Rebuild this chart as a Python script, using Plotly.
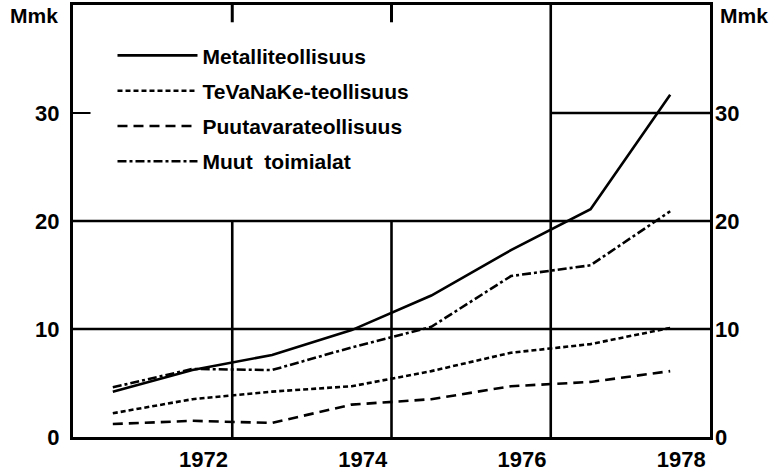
import plotly.graph_objects as go

years = [1971, 1972, 1973, 1974, 1975, 1976, 1977, 1978]
metalli = [4.2, 6.2, 7.6, 9.9, 13.1, 17.3, 21.1, 31.7]
tevanake = [2.2, 3.5, 4.2, 4.7, 6.1, 7.8, 8.6, 10.1]
puutavara = [1.2, 1.5, 1.3, 3.0, 3.5, 4.7, 5.1, 6.1]
muut = [4.6, 6.3, 6.2, 8.3, 10.2, 14.9, 15.9, 20.9]

series_names = ["Metalliteollisuus", "TeVaNaKe-teollisuus", "Puutavarateollisuus", "Muut  toimialat"]
x_tick_years = [1972, 1974, 1976, 1978]
y_ticks = [0, 10, 20, 30]

FONT = "Liberation Sans, Arial, sans-serif"
dashes = ["solid", "5px,3px", "10px,6px", "9px,3px,3px,3px"]
values = [metalli, tevanake, puutavara, muut]

fig = go.Figure()
for i, (name, vals, dash) in enumerate(zip(series_names, values, dashes)):
    fig.add_trace(go.Scatter(
        x=years, y=vals, mode="lines", name=name,
        line=dict(color="black", width=2.6, dash=dash),
        legendgroup=f"g{i}",
    ))

# invisible trace for right axis
fig.add_trace(go.Scatter(x=[years[0]], y=[0], yaxis="y2", mode="lines",
                         line=dict(width=0), showlegend=False, hoverinfo="skip"))

lw = 2.6
shapes = []
for xv, ytop in [(1972.5, 20), (1974.5, 20), (1976.5, 40)]:
    shapes.append(dict(type="line", xref="x", yref="y", x0=xv, x1=xv, y0=0, y1=ytop,
                       line=dict(color="black", width=lw)))
for yv, x0 in [(10, 1970.5), (20, 1970.5), (30, 1976.5)]:
    shapes.append(dict(type="line", xref="x", yref="y", x0=x0, x1=1978.5, y0=yv, y1=yv,
                       line=dict(color="black", width=lw)))
for xv in [1972.5, 1974.5]:
    shapes.append(dict(type="line", xref="x", yref="y", x0=xv, x1=xv, y0=40, y1=38.4,
                       line=dict(color="black", width=3)))
shapes.append(dict(type="line", xref="x", yref="y", x0=1970.5, x1=1970.72, y0=30, y1=30,
                   line=dict(color="black", width=2)))

fig.update_layout(
    width=777, height=471,
    margin=dict(l=73, r=67, t=5, b=34),
    paper_bgcolor="white", plot_bgcolor="white",
    font=dict(family=FONT, size=22, color="black", weight="bold"),
    showlegend=True,
    legend=dict(x=0.062, y=0.93, xanchor="left", yanchor="top",
                bgcolor="rgba(0,0,0,0)", font=dict(size=21, weight="bold"),
                tracegroupgap=5, itemwidth=80),
    xaxis=dict(range=[1970.5, 1978.5], tickvals=x_tick_years,
               ticktext=[str(v) for v in x_tick_years], ticklabelshift=11,
               ticklabelstandoff=1, automargin=False,
               showgrid=False, zeroline=False, showline=True, linewidth=3,
               linecolor="black", mirror=True, ticks=""),
    yaxis=dict(range=[0, 40], tickvals=y_ticks, ticktext=[str(v) for v in y_ticks],
               ticklabelstandoff=6, automargin=False,
               showgrid=False, zeroline=False, showline=True, linewidth=3,
               linecolor="black", mirror=True, ticks=""),
    yaxis2=dict(range=[0, 40], tickvals=y_ticks, ticktext=[str(v) for v in y_ticks],
                overlaying="y", side="right", showgrid=False, zeroline=False,
                ticklabelstandoff=4, showline=False, ticks="", automargin=False),
    shapes=shapes,
    annotations=[
        dict(text="Mmk", xref="paper", yref="paper", x=-0.02, y=0.975,
             xanchor="right", yanchor="middle", showarrow=False,
             font=dict(size=21, weight="bold")),
        dict(text="Mmk", xref="paper", yref="paper", x=1.012, y=0.975,
             xanchor="left", yanchor="middle", showarrow=False,
             font=dict(size=21, weight="bold")),
    ],
)

fig.write_html("out.html", config={"displayModeBar": False},
               post_script="document.body.style.margin='0px';")
